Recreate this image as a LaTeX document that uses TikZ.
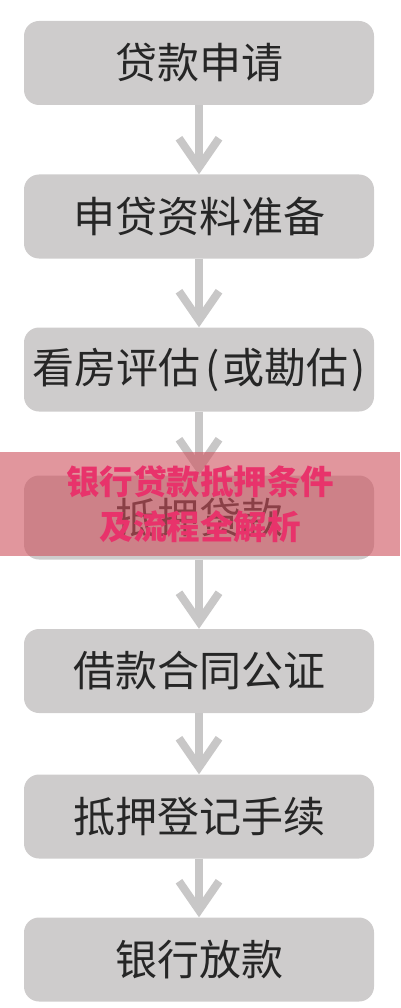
\documentclass[tikz,border=0pt]{standalone}
\usepackage{fontspec}
\newfontfamily\cjk{Noto Sans CJK SC}
\usetikzlibrary{arrows.meta}

\definecolor{boxgray}{RGB}{206,204,204}
\definecolor{arrowgray}{RGB}{200,199,199}
\definecolor{bannerred}{RGB}{205,80,92}
\definecolor{titlered}{RGB}{232,51,107}

\tikzset{
  stepbox/.style={fill=boxgray, rounded corners=15pt, minimum width=350pt,
    minimum height=84pt, inner sep=0pt, text=black!85,
    font=\cjk\fontsize{42pt}{48pt}\selectfont},
  flow/.style={arrowgray, line width=8pt,
    -{Straight Barb[length=29pt, width=40pt]}},
  banner/.style={fill=bannerred, fill opacity=0.6, text opacity=1,
    minimum width=400pt, minimum height=104pt, inner sep=0pt, align=center,
    text=titlered, font=\cjk\bfseries\fontsize{33.5pt}{45pt}\selectfont}
}

\begin{document}
\begin{tikzpicture}[x=1pt,y=-1pt]
  \useasboundingbox (0,0) rectangle (400,1008);

  \node[stepbox] (apply) at (199,63) {贷款申请};
  \node[stepbox] (docs) at (199,216.5) {申贷资料准备};
  \node[stepbox] (survey) at (199,369.5)
    {看房评估\hspace{5pt}(\hspace{3pt}或勘估\hspace{3pt})\hspace{5pt}};
  \node[stepbox] (loan) at (199,517.5) {抵押贷款};
  \node[stepbox] (notary) at (199,671) {借款合同公证};
  \node[stepbox] (register) at (199,816.5) {抵押登记手续};
  \node[stepbox] (payout) at (199,959.5) {银行放款};

  \draw[flow] (apply) -- (docs);
  \draw[flow] (docs) -- (survey);
  \draw[flow] (survey) -- (loan);
  \draw[flow] (loan) -- (notary);
  \draw[flow] (notary) -- (register);
  \draw[flow] (register) -- (payout);

  % title strip over the fourth step
  \node[banner] (title) at (200,504) {银行贷款抵押条件\\[-0.5pt]及流程全解析};
\end{tikzpicture}
\end{document}
